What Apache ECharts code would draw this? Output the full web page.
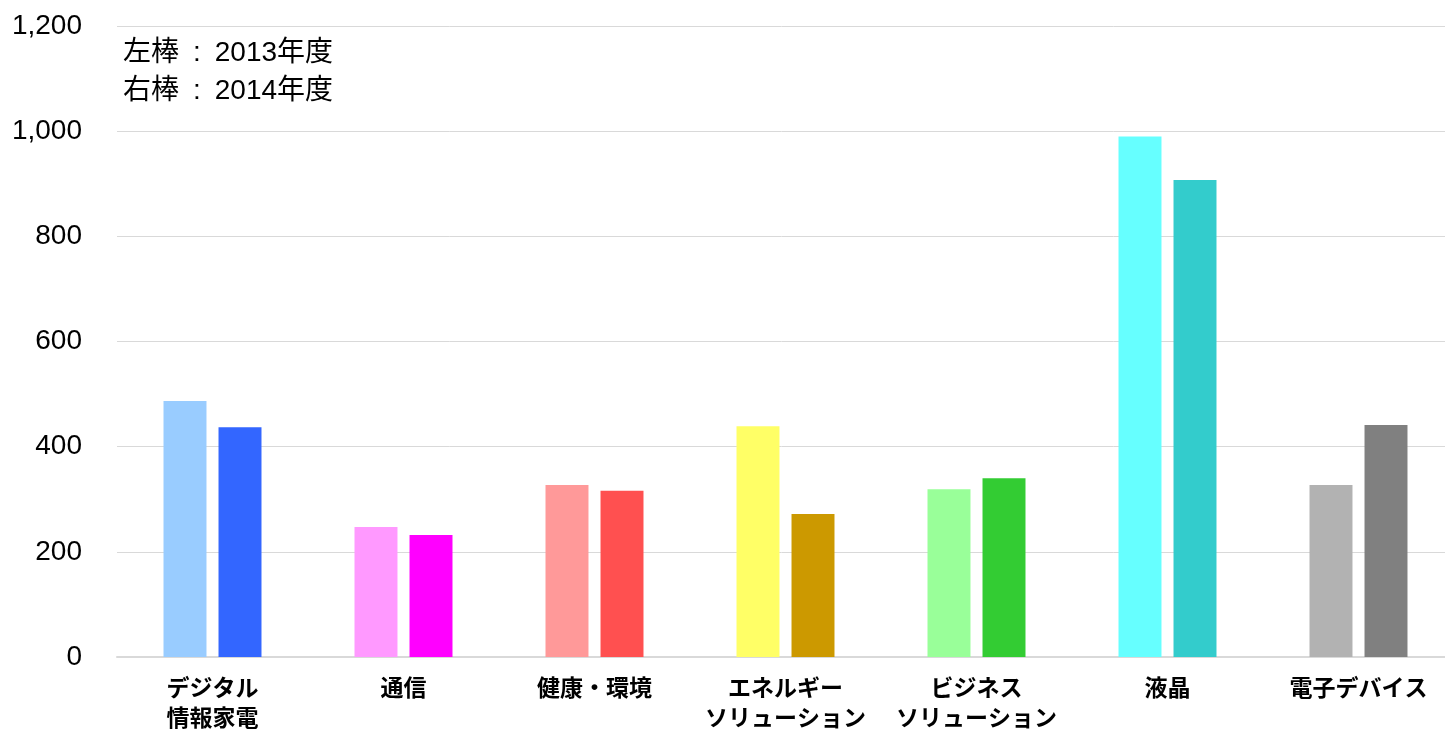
<!DOCTYPE html>
<html>
<head>
<meta charset="utf-8">
<script src="https://cdn.jsdelivr.net/npm/echarts@6/dist/echarts.min.js"></script>
<style>
  html, body { margin: 0; padding: 0; background: #fff; }
  #main { width: 1445px; height: 729px; }
</style>
</head>
<body>
<div id="main"></div>
<script>
// 部門別の値
var categories = ['デジタル\n情報家電', '通信', '健康・環境', 'エネルギー\nソリューション', 'ビジネス\nソリューション', '液晶', '電子デバイス'];
var values2013 = [487, 247, 327, 439, 319, 990, 327];
var values2014 = [437, 232, 316, 272, 340, 907, 441];
var colors2013 = ['#99CCFF', '#FF99FF', '#FF9999', '#FFFF66', '#99FF99', '#66FFFF', '#B2B2B2'];
var colors2014 = ['#3366FF', '#FF00FF', '#FF5050', '#CC9900', '#33CC33', '#33CCCC', '#808080'];
var yTicks = { min: 0, max: 1200, interval: 200 };

var latinFont = "'Liberation Sans', Arial, 'Noto Sans CJK JP', sans-serif";
var jpFont = "'Noto Sans CJK JP', sans-serif";

var chart = echarts.init(document.getElementById('main'));

function withColors(vals, cols) {
  return vals.map(function (v, i) {
    return { value: v, itemStyle: { color: cols[i] } };
  });
}

var option = {
  animation: false,
  // プロット領域は右端が少しはみ出す
  grid: { left: 117, width: 1337, top: 26, bottom: 72, containLabel: false, outerBoundsMode: 'none' },
  xAxis: {
    type: 'category',
    data: categories,
    axisTick: { show: false },
    axisLine: { lineStyle: { color: '#d9d9d9', width: 2 } },
    axisLabel: {
      color: '#000',
      fontWeight: 'bold',
      fontSize: 23,
      lineHeight: 30,
      margin: 15,
      interval: 0,
      fontFamily: jpFont
    }
  },
  yAxis: {
    type: 'value',
    min: yTicks.min,
    max: yTicks.max,
    interval: yTicks.interval,
    axisLine: { show: false },
    axisTick: { show: false },
    splitLine: { lineStyle: { color: '#d9d9d9', width: 1 } },
    axisLabel: {
      color: '#000',
      fontSize: 28,
      margin: 35,
      fontFamily: latinFont,
      formatter: function (v) { return v.toLocaleString('en-US'); }
    }
  },
  series: [
    {
      name: '2013年度',
      type: 'bar',
      data: withColors(values2013, colors2013),
      barWidth: '22.5%',
      barGap: '28%'
    },
    {
      name: '2014年度',
      type: 'bar',
      data: withColors(values2014, colors2014),
      barWidth: '22.5%',
      barGap: '28%'
    }
  ],
  graphic: [
    {
      type: 'text', left: 123, top: 39,
      style: { text: '左棒\u2002:\u20022013年度', fontSize: 28, fill: '#000', fontFamily: latinFont }
    },
    {
      type: 'text', left: 123, top: 77,
      style: { text: '右棒\u2002:\u20022014年度', fontSize: 28, fill: '#000', fontFamily: latinFont }
    }
  ]
};

chart.setOption(option);
</script>
</body>
</html>
